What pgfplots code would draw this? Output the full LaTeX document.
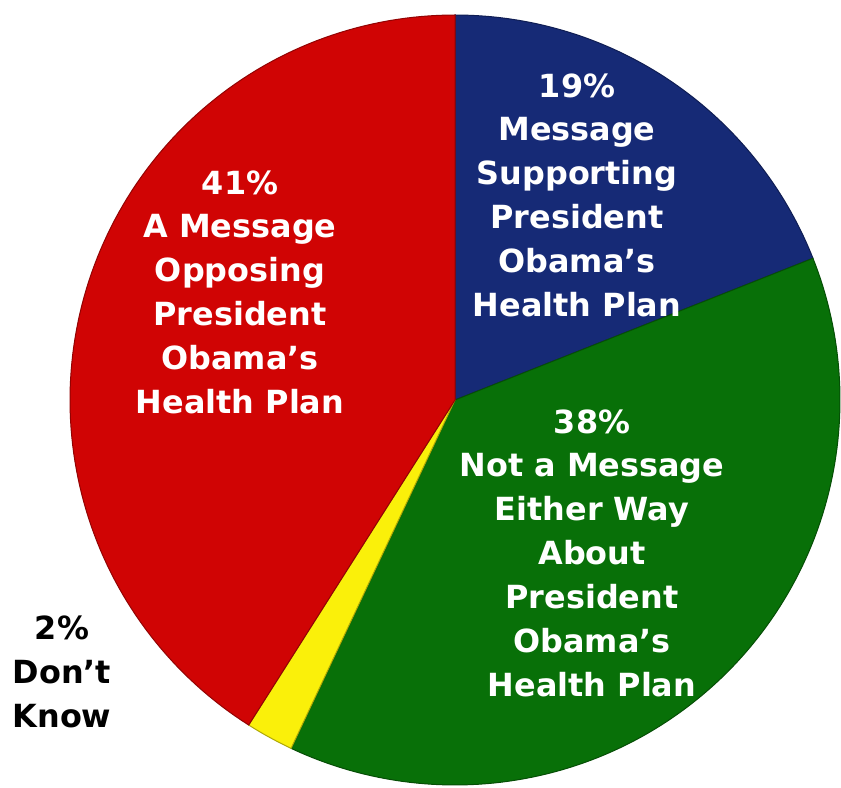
\documentclass[border=0pt]{standalone}
\usepackage{pgfplots}
\usepackage{pgfplotstable}
\pgfplotsset{compat=1.18}
\usepackage{fontspec}
\setmainfont{DejaVu Sans}
\definecolor{pieblue}{RGB}{22,42,118}
\definecolor{piegreen}{RGB}{8,112,8}
\definecolor{pieyellow}{RGB}{250,240,10}
\definecolor{piered}{RGB}{208,4,4}

\pgfplotstableread{
label pct
Supporting 19
Neither 38
DontKnow 2
Opposing 41
}\piedata

\pgfplotstablegetelem{0}{pct}\of\piedata \let\pA\pgfplotsretval
\pgfplotstablegetelem{1}{pct}\of\piedata \let\pB\pgfplotsretval
\pgfplotstablegetelem{2}{pct}\of\piedata \let\pC\pgfplotsretval
\pgfplotstablegetelem{3}{pct}\of\piedata \let\pD\pgfplotsretval
\pgfmathsetmacro\aO{90}
\pgfmathsetmacro\aA{\aO-3.6*\pA}
\pgfmathsetmacro\aB{\aA-3.6*\pB}
\pgfmathsetmacro\aC{\aB-3.6*\pC}
\pgfmathsetmacro\aD{\aC-3.6*\pD}

\def\cx{455}
\def\cy{388}
\def\rr{385}

\begin{document}
\begin{tikzpicture}
\begin{axis}[width=841bp, height=788bp, scale only axis,
  xmin=0, xmax=841, ymin=0, ymax=788, hide axis, clip=false]
% slices
\addplot[fill=pieblue, draw=pieblue!70!black, line width=1pt, domain=\aA:\aO, samples=80, variable=\t]
  ({\cx+\rr*cos(\t)},{\cy+\rr*sin(\t)}) -- (axis cs:\cx,\cy) -- cycle;
\addplot[fill=piegreen, draw=piegreen!70!black, line width=1pt, domain=\aB:\aA, samples=120, variable=\t]
  ({\cx+\rr*cos(\t)},{\cy+\rr*sin(\t)}) -- (axis cs:\cx,\cy) -- cycle;
\addplot[fill=pieyellow, draw=pieyellow!70!black, line width=1pt, domain=\aC:\aB, samples=10, variable=\t]
  ({\cx+\rr*cos(\t)},{\cy+\rr*sin(\t)}) -- (axis cs:\cx,\cy) -- cycle;
\addplot[fill=piered, draw=piered!70!black, line width=1pt, domain=\aD:\aC, samples=120, variable=\t]
  ({\cx+\rr*cos(\t)},{\cy+\rr*sin(\t)}) -- (axis cs:\cx,\cy) -- cycle;
% labels
\tikzset{lbl/.style={align=center, text=white, font=\fontsize{32}{44}\selectfont\bfseries}}
\node[lbl] at (axis cs:240,496) {41\%\\A Message\\Opposing\\President\\Obama’s\\Health Plan};
\node[lbl] at (axis cs:577,593) {19\%\\Message\\Supporting\\President\\Obama’s\\Health Plan};
\node[lbl] at (axis cs:592,235) {38\%\\Not a Message\\Either Way\\About\\President\\Obama’s\\Health Plan};
\node[lbl, text=black] at (axis cs:62,116) {2\%\\Don’t\\Know};
\end{axis}
\pgfresetboundingbox
\path (current axis.south west) rectangle (current axis.north east);
\end{tikzpicture}
\end{document}
